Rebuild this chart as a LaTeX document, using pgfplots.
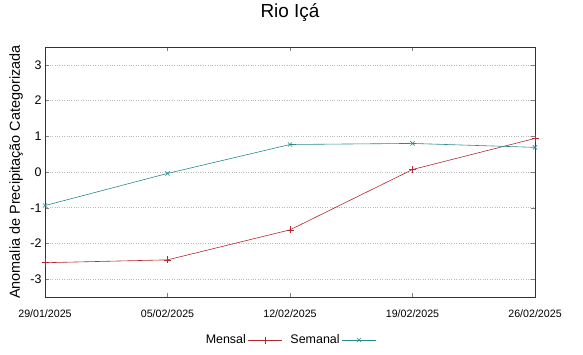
\documentclass[border=0pt]{standalone}
\usepackage{fontspec}
\setmainfont{Liberation Sans}
\usepackage{pgfplots}
\pgfplotsset{compat=1.18}

\definecolor{mensal}{RGB}{178,40,48}
\definecolor{semanal}{RGB}{40,138,138}

\begin{document}
\begin{tikzpicture}[x=1bp,y=1bp]
\path[use as bounding box] (0,0) rectangle (583,354);
\begin{axis}[
    scale only axis,
    width=490bp, height=250bp,
    at={(45bp,57bp)}, anchor=south west,
    xmin=0, xmax=4, ymin=-3.5, ymax=3.5,
    xtick={0,1,2,3,4},
    xticklabels={29/01/2025,05/02/2025,12/02/2025,19/02/2025,26/02/2025},
    ytick={-3,-2,-1,0,1,2,3},
    tick align=inside,
    major tick length=4bp,
    ymajorgrids,
    grid style={dotted, gray!55, line width=0.6pt},
    axis line style={black!80, line width=0.6pt},
    xticklabel style={font=\fontsize{10.7}{12}\selectfont, yshift=-9bp},
    yticklabel style={font=\fontsize{12.5}{14}\selectfont},
    /pgf/number format/assume math mode=true,
    title={Rio Içá},
    title style={font=\fontsize{19}{22}\selectfont, at={(axis description cs:0.5,1.112)}, anchor=center},
    ylabel={Anomalia de Precipitação Categorizada},
    ylabel style={font=\fontsize{14.5}{16}\selectfont, at={(axis description cs:-0.059,0.5)}, anchor=center, rotate=0},
    legend columns=2,
    legend plot pos=right,
    legend style={at={(axis description cs:0.5,-0.172)}, anchor=center, draw=none, fill=none,
        font=\fontsize{12.5}{14}\selectfont, /tikz/every even column/.append style={column sep=6bp}},
    legend image code/.code={\draw[#1] (0bp,0bp) -- (34bp,0bp); \draw[#1, only marks] plot coordinates {(17bp,0bp)};},
]
\addplot[mensal, line width=0.6pt, mark=+, mark size=3.5bp] coordinates {
    (0,-2.54) (1,-2.46) (2,-1.62) (3,0.07) (4,0.94)
};
\addlegendentry{Mensal}
\addplot[semanal, line width=0.6pt, mark=x, mark size=3bp] coordinates {
    (0,-0.94) (1,-0.04) (2,0.77) (3,0.80) (4,0.69)
};
\addlegendentry{Semanal}
\end{axis}
\end{tikzpicture}
\end{document}
